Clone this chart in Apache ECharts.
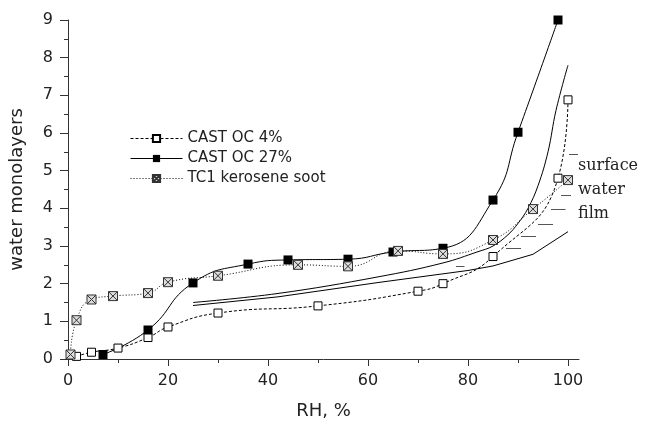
<!DOCTYPE html>
<html><head><meta charset="utf-8">
<script src="https://cdn.jsdelivr.net/npm/echarts@6/dist/echarts.min.js"></script>
<style>html,body{margin:0;padding:0;background:#fff}#c{width:647px;height:421px}</style>
</head><body><div id="c"></div>
<script>
// ---- data ----
const oc4X  = [1.7, 4.7, 10, 16, 20, 30, 50, 70, 75, 85, 98, 100];
const oc4Y  = [0.07, 0.18, 0.29, 0.57, 0.85, 1.22, 1.41, 1.8, 2.0, 2.72, 4.8, 6.88];
const oc27X = [7, 16, 25, 36, 44, 56, 65, 75, 85, 90, 98];
const oc27Y = [0.12, 0.77, 2.02, 2.52, 2.63, 2.65, 2.84, 2.94, 4.22, 6.02, 9.0];
const tc1X  = [0.5, 1.7, 4.7, 9, 16, 20, 30, 46, 56, 66, 75, 85, 93, 100];
const tc1Y  = [0.12, 1.03, 1.58, 1.67, 1.75, 2.04, 2.21, 2.5, 2.46, 2.87, 2.79, 3.16, 3.98, 4.75];
// surface water film model curves
const modelUpX = [25, 42, 62, 75, 82, 85, 88, 90, 92, 94, 96, 97.6, 100];
const modelUpY = [1.50, 1.74, 2.18, 2.55, 2.85, 3.0, 3.3, 3.6, 4.0, 4.6, 5.5, 6.6, 7.8];
const modelLoX = [25, 42, 62, 80, 85, 93, 100];
const modelLoY = [1.42, 1.65, 2.03, 2.35, 2.47, 2.78, 3.38];
// hatch dashes (x start, x end, y)
const dashX1 = [77.6, 87.6, 90.6, 94.0, 96.6, 98.6, 100.2];
const dashX2 = [79.3, 90.6, 93.6, 97.0, 99.5, 100.6, 102.0];
const dashY  = [2.45, 2.95, 3.25, 3.58, 3.98, 4.34, 5.43];
const xTicks = [0, 20, 40, 60, 80, 100];
const xMinorTicks = [10, 30, 50, 70, 90];
const legendNames = ['CAST OC 4%', 'CAST OC 27%', 'TC1 kerosene soot'];
const filmWords = ['surface', 'water', 'film'];

const zip = (a, b) => a.map((v, i) => [v, b[i]]);
const SANS = '"DejaVu Sans", sans-serif';
const chart = echarts.init(document.getElementById('c'), null, {renderer: 'canvas'});
const crossSq = 'path://M0 0H10V10H0ZM0 0L10 10M10 0L0 10';

chart.setOption({
  animation: false,
  backgroundColor: '#fff',
  grid: {left: 68, right: 68, top: 20, bottom: 62, containLabel: false, outerBoundsMode: 'none'},
  legend: {
    data: legendNames, orient: 'vertical', left: 125, top: 126,
    itemWidth: 52, itemHeight: 9, itemGap: 5,
    lineStyle: {width: 1},
    textStyle: {fontFamily: SANS, fontSize: 15, color: '#222'}
  },
  xAxis: [{
    type: 'value', min: 0, max: 102.2, interval: 20,
    name: 'RH, %', nameLocation: 'middle', nameGap: 43,
    nameTextStyle: {fontFamily: SANS, fontSize: 18, color: '#222'},
    axisLine: {show: true, lineStyle: {color: '#333', width: 1}},
    axisTick: {show: true, length: 7, customValues: xTicks, lineStyle: {color: '#333'}},
    axisLabel: {customValues: xTicks, fontFamily: SANS, fontSize: 16, color: '#222', margin: 14},
    splitLine: {show: false}
  }, {
    type: 'value', min: 0, max: 102.2, interval: 20, position: 'bottom',
    axisLine: {show: false},
    axisTick: {show: true, length: 4, customValues: xMinorTicks, lineStyle: {color: '#333'}},
    axisLabel: {show: false},
    splitLine: {show: false}
  }],
  yAxis: {
    type: 'value', min: 0, max: 9, interval: 1,
    name: 'water monolayers', nameLocation: 'middle', nameGap: 42,
    nameTextStyle: {fontFamily: SANS, fontSize: 18, color: '#222'},
    axisLine: {show: true, lineStyle: {color: '#333', width: 1}},
    axisTick: {show: true, length: 8, lineStyle: {color: '#333'}},
    minorTick: {show: true, splitNumber: 2, length: 4, lineStyle: {color: '#333'}},
    axisLabel: {fontFamily: SANS, fontSize: 16, color: '#222', margin: 15},
    splitLine: {show: false}
  },
  series: [
    {type: 'line', name: 'model upper', data: zip(modelUpX, modelUpY), smooth: 0.4,
     showSymbol: false, symbol: 'none', silent: true, z: 2,
     lineStyle: {color: '#000', width: 1}},
    {type: 'line', name: 'model lower', data: zip(modelLoX, modelLoY), smooth: false,
     showSymbol: false, symbol: 'none', silent: true, z: 2,
     lineStyle: {color: '#000', width: 1}},
    {type: 'lines', coordinateSystem: 'cartesian2d', silent: true, z: 2,
     data: dashY.map((y, i) => ({coords: [[dashX1[i], y], [dashX2[i], y]]})),
     lineStyle: {color: '#555', width: 1, opacity: 1}},
    {type: 'line', name: legendNames[0], data: zip(oc4X, oc4Y), smooth: 0.5, z: 4,
     symbol: 'rect', symbolSize: 8,
     itemStyle: {color: '#fff', borderColor: '#000', borderWidth: 1},
     lineStyle: {color: '#000', width: 1, type: [3, 2]}},
    {type: 'line', name: legendNames[1], data: zip(oc27X, oc27Y), smooth: 0.5, z: 4,
     symbol: 'rect', symbolSize: 9,
     itemStyle: {color: '#000', borderColor: '#000', borderWidth: 0},
     lineStyle: {color: '#000', width: 1}},
    {type: 'line', name: legendNames[2], data: zip(tc1X, tc1Y), smooth: 0.5, z: 4,
     symbol: crossSq, symbolSize: 9,
     itemStyle: {color: '#ddd', borderColor: '#333', borderWidth: 1},
     lineStyle: {color: '#000', width: 1, type: [1, 2]}}
  ],
  graphic: filmWords.map((w, i) => ({
    type: 'text', left: 578, top: [158, 182, 206][i], silent: true,
    style: {text: w, font: '16px "DejaVu Serif", serif', fill: '#222'}
  }))
});
</script></body></html>
